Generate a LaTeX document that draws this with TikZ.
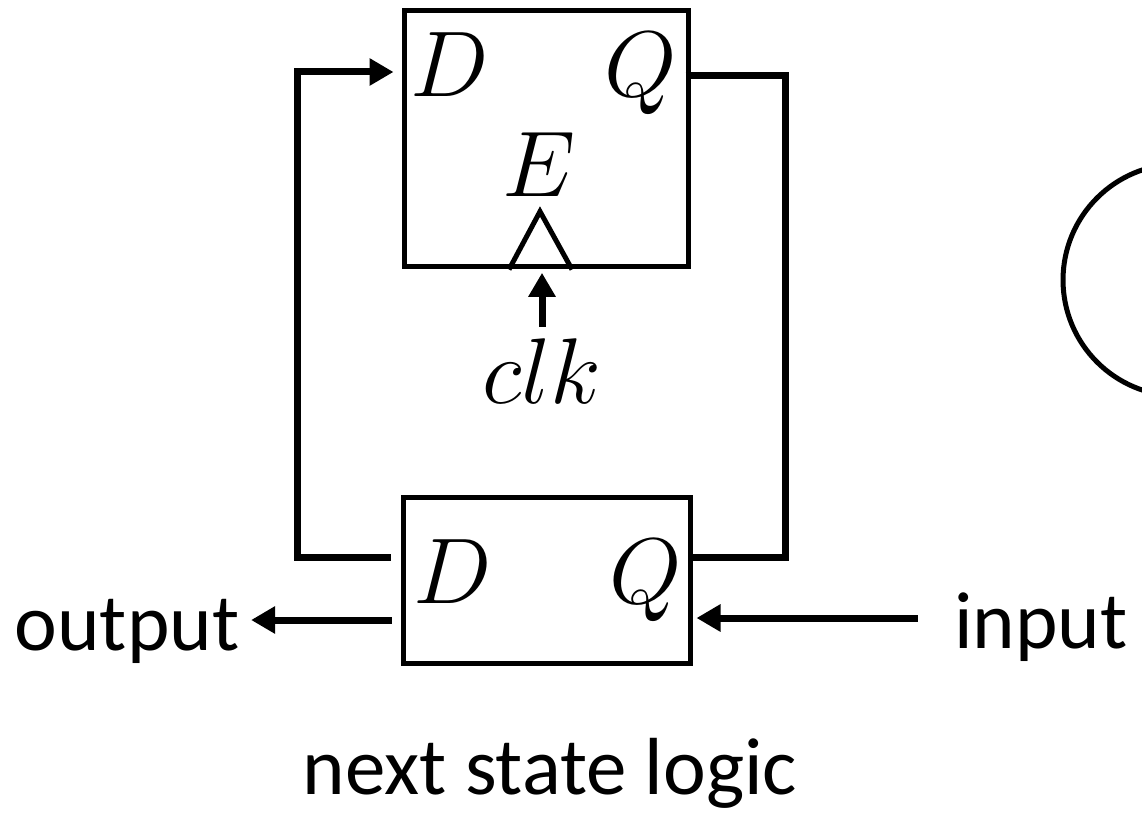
\documentclass[tikz,border=0pt]{standalone}
\usepackage{fix-cm}
\usepackage{fontspec}
\setmainfont{Carlito}
\usetikzlibrary{arrows.meta}

\begin{document}
\begin{tikzpicture}[x=0.3pt, y=-0.3pt,
  every node/.style={font=\fontsize{24.3}{29}\selectfont},
  box/.style={rectangle, draw, line width=1.5pt, inner sep=0pt},
  wire/.style={line width=2.1pt},
  arr/.style={wire, -{Triangle[length=7.2pt, width=7.8pt]}},
  pinlbl/.style={anchor=base, inner sep=0pt, font=\fontsize{28}{34}\selectfont}]
\useasboundingbox (0,0) rectangle (1142,812);
\node[box, minimum width=85.2pt, minimum height=76.8pt] (reg) at (546,139) {};
\node[box, minimum width=86.1pt, minimum height=49.8pt] (nsl) at (546.5,580) {};
\node[pinlbl] (regD) at (450,97) {$D$};
\node[pinlbl] (regQ) at (641,97) {$Q$};
\node[pinlbl] (regE) at (539,197) {$E$};
\node[pinlbl] (nslD) at (453,603) {$D$};
\node[pinlbl] (nslQ) at (646,603) {$Q$};
\node[pinlbl, inner sep=3.3pt] (clk) at (542,403) {$clk$};
\node[anchor=base] (output) at (127,650) {output};
\node[anchor=base] (input) at (1041,648) {input};
\node[anchor=base] (caption) at (550,794) {next state logic};
\node[draw, circle, line width=1.5pt, minimum size=69.6pt] (bubble) at (1179,280) {};
\draw[line width=1.5pt] ([shift={(-37,0)}]reg.south) -- ++(31,-58) -- ++(32,58);
\coordinate (outP) at ([shift={(-9,40)}]nsl.west);
\coordinate (inP) at ([shift={(4,38)}]nsl.east);
\draw[arr] ([shift={(-10,-23)}]nsl.west) -- ++(-93,0) |- ([shift={(-8,-67)}]reg.west);
\draw[wire] ([shift={(-5,-63)}]reg.east) -- ++(100,0) |- ([yshift=6.9pt]nsl.east);
\draw[arr] (outP) -- (outP -| output.east);
\draw[arr, shorten <=7.5pt] (input.west |- inP) -- (inP);
\draw[arr, shorten >=1pt] (clk.north) -- (clk.north |- reg.south);
\end{tikzpicture}
\end{document}
